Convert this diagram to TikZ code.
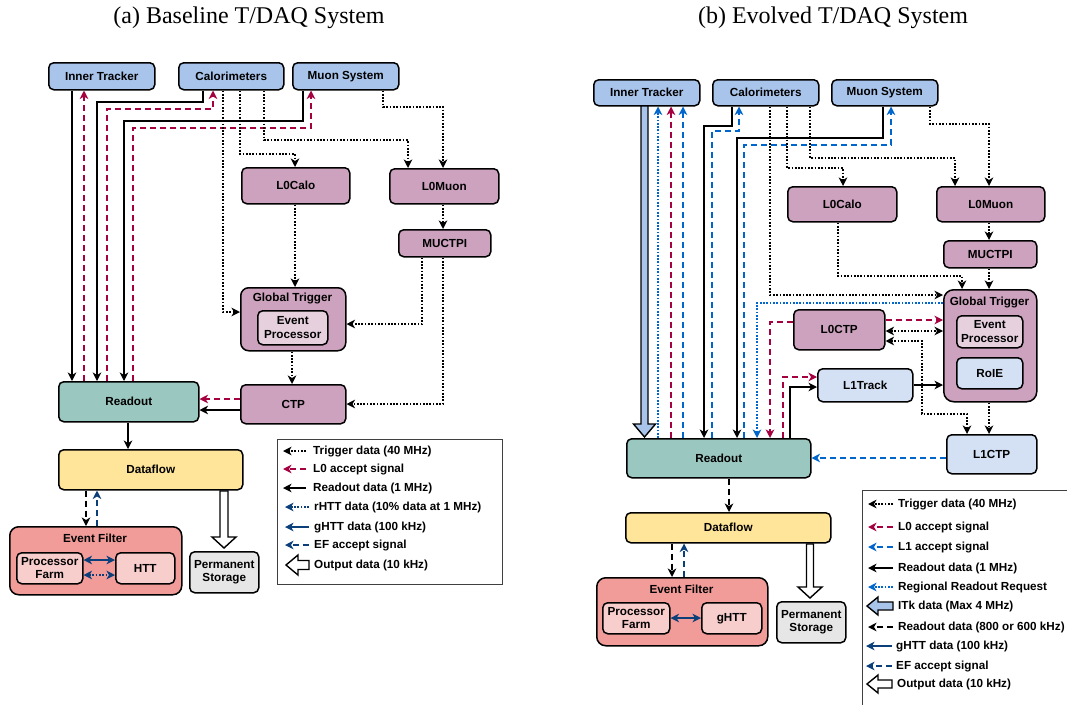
\documentclass[tikz,border=0pt]{standalone}
\usepackage{fontspec}
\setmainfont{Liberation Serif}
\setsansfont{Liberation Sans}
\usetikzlibrary{arrows.meta,calc}
\definecolor{srcBlue}{HTML}{A9C4EB}
\definecolor{trgPurp}{HTML}{CDA2BE}
\definecolor{trgPurpL}{HTML}{E6D0DE}
\definecolor{roTeal}{HTML}{9AC7BF}
\definecolor{dfYellow}{HTML}{FFE599}
\definecolor{efRed}{HTML}{F19C99}
\definecolor{efLight}{HTML}{F8CECC}
\definecolor{psGray}{HTML}{E6E6E6}
\definecolor{lBlue}{HTML}{D4E1F5}
\definecolor{acRed}{HTML}{A50040}
\definecolor{acBlue}{HTML}{0066CC}
\definecolor{dkBlue}{HTML}{0B3F7A}
\newcommand\bxnode[7]{\node[box, fill=#2, minimum width={#5-#3}, minimum height={#6-#4}] (#1) at (#3,#4) {#7};}
\tikzset{
  txt/.style={font=\bfseries\sffamily\fontsize{11.7}{13.5}\selectfont},
  box/.style={txt, draw, line width=1.5pt, rounded corners=5pt, align=center, inner sep=0pt, anchor=north west},
  conn/.style={line width=1.4pt, >={Stealth[length=8.5pt,width=8.5pt,inset=2.5pt]}, ->},
  solidl/.style={conn},
  dotl/.style={conn, line width=1.7pt, dash pattern=on 1.7pt off 1.6pt},
  dashl/.style={conn, line width=1.5pt, dash pattern=on 6pt off 4pt},
  bigarrow/.style={line width=1.4pt, draw=black, line join=miter},
  legtxt/.style={txt, anchor=west, inner sep=0pt},
}
\begin{document}
\begin{tikzpicture}[x=1pt,y=-1pt]
\useasboundingbox (0,0) rectangle (1067,704);

% ---------- titles ----------
\node[font=\rmfamily\fontsize{24}{28}\selectfont] (ta) at (249,18) {(a) Baseline T/DAQ System};
\node[font=\rmfamily\fontsize{24}{28}\selectfont] (tb) at (833,18) {(b) Evolved T/DAQ System};

% ================= LEFT =================
\bxnode{it1}{srcBlue}{48}{62}{154}{89}{Inner Tracker}
\bxnode{cal1}{srcBlue}{178}{62}{283}{89}{Calorimeters}
\bxnode{mu1}{srcBlue}{292}{62}{398}{89}{Muon System}
\bxnode{l0calo1}{trgPurp}{241}{167}{349}{203}{L0Calo}
\bxnode{l0muon1}{trgPurp}{389}{168}{498}{203}{L0Muon}
\bxnode{muctpi1}{trgPurp}{398}{229}{490}{256}{MUCTPI}
\node[box, fill=trgPurp, rounded corners=8pt, minimum width=105, minimum height=63] (gt1) at (240,287) {};
\node[txt] (gt1t) at (292.5,298) {Global Trigger};
\bxnode{ep1}{trgPurpL}{257}{310}{327}{344}{Event\\Processor}
\bxnode{ctp1}{trgPurp}{240}{384}{345}{423}{CTP}
\bxnode{ro1}{roTeal}{58}{381}{198}{421}{Readout}
\bxnode{df1}{dfYellow}{58}{449}{242}{489}{Dataflow}
\node[box, fill=efRed, rounded corners=9pt, minimum width=172, minimum height=68] (ef1) at (9,526) {};
\node[txt] (ef1t) at (95,538) {Event Filter};
\bxnode{pf1}{efLight}{16}{552}{82}{583}{Processor\\Farm}
\bxnode{htt1}{efLight}{115}{552}{174}{583}{HTT}
\bxnode{ps1}{psGray}{189}{551}{258}{592}{Permanent\\Storage}

% connectors left
\draw[solidl] (it1.south -| 72,0) -- (ro1.north -| 72,0);
\draw[dashl, acRed] (ro1.north -| 84,0) -- (it1.south -| 84,0);
\draw[solidl] (cal1.south -| 203,0) -- (203,102) -- (97,102) -- (ro1.north -| 97,0);
\draw[dashl, acRed] (ro1.north -| 107,0) -- (107,109) -- (213,109) -- (cal1.south -| 213,0);
\draw[solidl] (mu1.south -| 303,0) -- (303,121) -- (124,121) -- (ro1.north -| 124,0);
\draw[dashl, acRed] (ro1.north -| 133,0) -- (133,128) -- (311,128) -- (mu1.south -| 311,0);
\draw[dotl] (cal1.south -| 223,0) -- (223,312) -- (gt1.west |- 0,312);
\draw[dotl] (cal1.south -| 240,0) -- (240,154) -- (295,154) -- (l0calo1.north -| 295,0);
\draw[dotl] (cal1.south -| 264,0) -- (264,140) -- (408,140) -- (l0muon1.north -| 408,0);
\draw[dotl] (mu1.south -| 383,0) -- (383,107) -- (443,107) -- (l0muon1.north -| 443,0);
\draw[dotl] (l0calo1.south -| 295,0) -- (gt1.north -| 295,0);
\draw[dotl] (l0muon1.south -| 443,0) -- (muctpi1.north -| 443,0);
\draw[dotl] (muctpi1.south -| 422,0) -- (422,324) -- (gt1.east |- 0,324);
\draw[dotl] (muctpi1.south -| 443,0) -- (443,404) -- (ctp1.east |- 0,404);
\draw[dotl] (gt1.south -| 292,0) -- (ctp1.north -| 292,0);
\draw[dashl, acRed] (ctp1.west |- 0,399) -- (ro1.east |- 0,399);
\draw[solidl] (ctp1.west |- 0,410) -- (ro1.east |- 0,410);
\draw[solidl] (ro1.south -| 128,0) -- (df1.north -| 128,0);
\draw[dashl] (df1.south -| 86,0) -- (ef1.north -| 86,0);
\draw[dashl, dkBlue] (ef1.north -| 97,0) -- (df1.south -| 97,0);
\draw[solidl, dkBlue, <->] (pf1.east |- 0,560) -- (htt1.west |- 0,560);
\draw[dotl, dkBlue, <->] (pf1.east |- 0,575) -- (htt1.west |- 0,575);
\draw[bigarrow, fill=white] (220,491) -- (228,491) -- (228,537) -- (236,537) -- (224,548) -- (212,537) -- (220,537) -- cycle;

% legend left
\draw[line width=0.8pt, draw=black!75] (277,439) rectangle (502,584);
\draw[dotl] (306,451) -- (283,451);
\node[legtxt] at (313,451) {Trigger data (40 MHz)};
\draw[dashl, acRed] (306,469) -- (283,469);
\node[legtxt] at (313,469) {L0 accept signal};
\draw[solidl] (306,488) -- (283,488);
\node[legtxt] at (313,488) {Readout data (1 MHz)};
\draw[dotl, dkBlue] (309,507) -- (285,507);
\node[legtxt] at (314,507) {rHTT data (10\% data at 1 MHz)};
\draw[solidl, dkBlue] (309,527) -- (285,527);
\node[legtxt] at (314,527) {gHTT data (100 kHz)};
\draw[dashl, dkBlue] (309,545) -- (285,545);
\node[legtxt] at (314,545) {EF accept signal};
\draw[bigarrow, fill=white] (309,560.5) -- (298,560.5) -- (298,555) -- (286,565) -- (298,575) -- (298,569.5) -- (309,569.5) -- cycle;
\node[legtxt] at (314,565) {Output data (10 kHz)};

% ================= RIGHT =================
\bxnode{it2}{srcBlue}{593}{79}{699}{105}{Inner Tracker}
\bxnode{cal2}{srcBlue}{712}{79}{818}{105}{Calorimeters}
\bxnode{mu2}{srcBlue}{831}{79}{937}{105}{Muon System}
\bxnode{l0calo2}{trgPurp}{787}{186}{896}{221}{L0Calo}
\bxnode{l0muon2}{trgPurp}{936}{186}{1044}{221}{L0Muon}
\bxnode{muctpi2}{trgPurp}{943}{240}{1036}{267}{MUCTPI}
\node[box, fill=trgPurp, rounded corners=10pt, minimum width=93, minimum height=112] (gt2) at (943,289) {};
\node[txt] (gt2t) at (989.5,302) {Global Trigger};
\bxnode{ep2}{trgPurpL}{956}{315}{1022}{347}{Event\\Processor}
\bxnode{roie2}{lBlue}{956}{357}{1022}{388}{RoIE}
\bxnode{l0ctp2}{trgPurp}{793}{309}{884}{349}{L0CTP}
\bxnode{l1track2}{lBlue}{817}{368}{912}{401}{L1Track}
\bxnode{l1ctp2}{lBlue}{946}{434}{1036}{473}{L1CTP}
\bxnode{ro2}{roTeal}{626}{438}{810}{477}{Readout}
\bxnode{df2}{dfYellow}{625}{512}{830}{542}{Dataflow}
\node[box, fill=efRed, rounded corners=9pt, minimum width=171, minimum height=68] (ef2) at (596,577) {};
\node[txt] (ef2t) at (681.5,589) {Event Filter};
\bxnode{pf2}{efLight}{602}{602}{669}{633}{Processor\\Farm}
\bxnode{ghtt2}{efLight}{701}{602}{761}{633}{gHTT}
\bxnode{ps2}{psGray}{776}{601}{845}{642}{Permanent\\Storage}

% connectors right
\draw[bigarrow, fill=srcBlue] (641,106) -- (648,106) -- (648,424) -- (655.5,424) -- (644.5,437) -- (633.5,424) -- (641,424) -- cycle;
\draw[dotl, acBlue] (ro2.north -| 658,0) -- (it2.south -| 658,0);
\draw[dashl, acRed] (ro2.north -| 671,0) -- (it2.south -| 671,0);
\draw[dashl, acBlue] (ro2.north -| 683,0) -- (it2.south -| 683,0);
\draw[solidl] (cal2.south -| 732,0) -- (732,126) -- (704,126) -- (ro2.north -| 704,0);
\draw[dashl, acBlue] (ro2.north -| 712,0) -- (712,131) -- (739,131) -- (cal2.south -| 739,0);
\draw[solidl] (mu2.south -| 883,0) -- (883,138) -- (737,138) -- (ro2.north -| 737,0);
\draw[dashl, acBlue] (ro2.north -| 744,0) -- (744,145) -- (891,145) -- (mu2.south -| 891,0);
\draw[dotl] (cal2.south -| 770,0) -- (770,295) -- (gt2.west |- 0,295);
\draw[dotl] (cal2.south -| 787,0) -- (787,168) -- (843,168) -- (l0calo2.north -| 843,0);
\draw[dotl] (cal2.south -| 810,0) -- (810,158) -- (955,158) -- (l0muon2.north -| 955,0);
\draw[dotl] (mu2.south -| 930,0) -- (930,124) -- (989,124) -- (l0muon2.north -| 989,0);
\draw[dotl] (l0muon2.south -| 989,0) -- (muctpi2.north -| 989,0);
\draw[dotl] (muctpi2.south -| 989,0) -- (gt2.north -| 989,0);
\draw[dotl] (l0calo2.south -| 838,0) -- (838,276) -- (962,276) -- (gt2.north -| 962,0);
\draw[dotl, acBlue] (gt2.west |- 0,303) -- (757,303) -- (ro2.north -| 757,0);
\draw[dashl, acRed] (l0ctp2.east |- 0,320) -- (gt2.west |- 0,320);
\draw[dotl, <->] (l0ctp2.east |- 0,331) -- (gt2.west |- 0,331);
\draw[dotl, <->] (l0ctp2.east |- 0,341) -- (922,341) -- (922,414) -- (967,414) -- (l1ctp2.north -| 967,0);
\draw[dashl, acRed] (l0ctp2.west |- 0,322) -- (770,322) -- (ro2.north -| 770,0);
\draw[dashl, acRed] (ro2.north -| 783,0) -- (783,377) -- (l1track2.west |- 0,377);
\draw[solidl] (ro2.north -| 790,0) -- (790,387) -- (l1track2.west |- 0,387);
\draw[solidl] (l1track2.east |- 0,385) -- (gt2.west |- 0,385);
\draw[dotl] (gt2.south -| 989,0) -- (l1ctp2.north -| 989,0);
\draw[dashl, acBlue] (l1ctp2.west |- 0,458) -- (ro2.east |- 0,458);
\draw[dashl] (ro2.south -| 729,0) -- (df2.north -| 729,0);
\draw[dashl] (df2.south -| 672,0) -- (ef2.north -| 672,0);
\draw[dashl, dkBlue] (ef2.north -| 684,0) -- (df2.south -| 684,0);
\draw[solidl, dkBlue, <->] (pf2.east |- 0,618) -- (ghtt2.west |- 0,618);
\draw[bigarrow, fill=white] (806.5,544) -- (813.5,544) -- (813.5,587) -- (822,587) -- (810,598) -- (798,587) -- (806.5,587) -- cycle;

% legend right
\draw[line width=0.8pt, draw=black!75] (862,490) rectangle (1080,720);
\draw[dotl] (893,504) -- (868,504);
\node[legtxt] at (898,504) {Trigger data (40 MHz)};
\draw[dashl, acRed] (893,527) -- (868,527);
\node[legtxt] at (898,527) {L0 accept signal};
\draw[dashl, acBlue] (893,547) -- (868,547);
\node[legtxt] at (898,547) {L1 accept signal};
\draw[solidl] (893,568) -- (868,568);
\node[legtxt] at (898,568) {Readout data (1 MHz)};
\draw[dotl, acBlue] (893,587) -- (868,587);
\node[legtxt] at (898,587) {Regional Readout Request};
\draw[bigarrow, fill=srcBlue] (893,602) -- (878,602) -- (878,597) -- (867,606) -- (878,615) -- (878,610) -- (893,610) -- cycle;
\node[legtxt] at (898,606) {ITk data (Max 4 MHz)};
\draw[dashl] (893,627) -- (868,627);
\node[legtxt] at (898,627) {Readout data (800 or 600 kHz)};
\draw[solidl, dkBlue] (892,646) -- (866,646);
\node[legtxt] at (896,646) {gHTT data (100 kHz)};
\draw[dashl, dkBlue] (892,666) -- (866,666);
\node[legtxt] at (896,666) {EF accept signal};
\draw[bigarrow, fill=white] (892,680) -- (878,680) -- (878,675) -- (867,684) -- (878,693) -- (878,688) -- (892,688) -- cycle;
\node[legtxt] at (897,684) {Output data (10 kHz)};
\end{tikzpicture}
\end{document}
